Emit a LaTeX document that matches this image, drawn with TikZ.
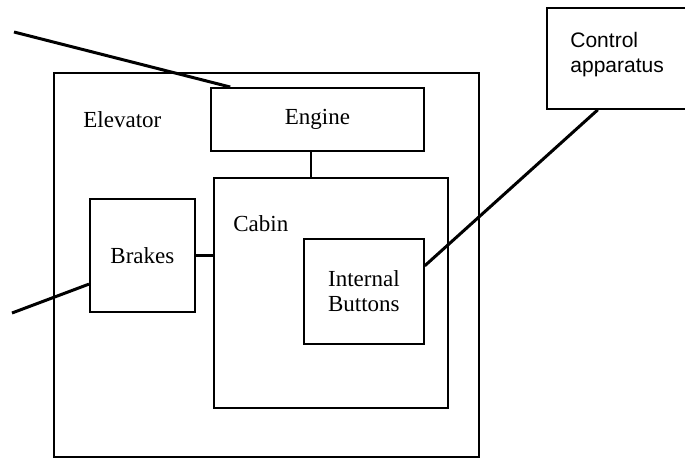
\documentclass[tikz,border=0pt]{standalone}
\usepackage{fontspec}
\setmainfont{Liberation Serif}
\newfontfamily\ctrlfont{Liberation Sans}
\usetikzlibrary{calc}

\tikzset{
  box/.style={draw, rectangle, line width=0.9pt, anchor=north west, inner sep=0pt, align=center},
  wire/.style={line width=1.5pt},
  link/.style={line width=1.1pt}
}

\begin{document}
\begin{tikzpicture}[x=0.5pt,y=-0.5pt, font=\fontsize{11.5}{12.5}\selectfont]
\clip (0,0) rectangle (685,457);

\node[box, minimum width=212.5pt, minimum height=192pt] (elevator) at (53,72) {};
\node[box, minimum width=106.5pt, minimum height=31.5pt] (engine) at (210,87) {Engine};
\node[box, minimum width=117pt, minimum height=115pt] (cabin) at (213,177) {};
\node[box, minimum width=52.5pt, minimum height=56.5pt] (brakes) at (89,198) {Brakes};
\node[box, minimum width=60pt, minimum height=52.5pt] (buttons) at (303,238) {Internal\\Buttons};
\node[box, minimum width=80pt, minimum height=50.5pt] (control) at (546,7) {};

\node[anchor=base west, inner sep=0pt] (elevatorlabel) at (83,127) {Elevator};
\node[anchor=base west, inner sep=0pt] (cabinlabel) at (233,231) {Cabin};
\node[anchor=base west, inner sep=0pt, align=left,
  font=\ctrlfont\fontsize{10.5}{12.5}\selectfont] (controllabel) at (570,72) {Control\\apparatus};

\coordinate (outtop) at (14,32);
\coordinate (outleft) at (12,313);

\draw[link] ([xshift=-3.25pt]engine.south) -- ([xshift=-3.25pt]engine.south |- cabin.north);
\draw[link] (brakes.east) -- (brakes.east -| cabin.west);

\draw[wire] (outtop) -- ($(engine.north west)!0.094!(engine.north east)$);
\draw[wire] (outleft) -- ($(brakes.north west)!0.75!(brakes.south west)$);
\draw[wire] ($(buttons.north east)!0.26!(buttons.south east)$) -- ($(control.south west)!0.32!(control.south east)$);
\end{tikzpicture}
\end{document}
